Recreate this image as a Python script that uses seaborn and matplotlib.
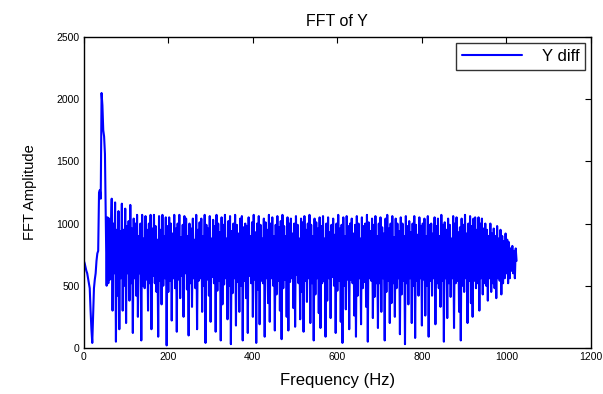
import numpy as np
import pandas as pd
import matplotlib
matplotlib.use("Agg")
import matplotlib.pyplot as plt
import seaborn as sns

# FFT amplitude (2 Hz spacing, from 0 Hz)
amplitude = [
    700, 680, 650, 620, 600, 560, 520, 480, 300, 150, 40, 250, 480, 550, 600, 700, 760, 780, 1250, 1270,
    1200, 2050, 1950, 1750, 1700, 1560, 1000, 500, 1050, 520, 1040, 550, 900, 1200, 300, 1000, 600, 1170, 50, 950,
    420, 1100, 150, 940, 560, 1160, 300, 950, 500, 1120, 200, 980, 600, 1020, 380, 1150, 520, 960, 120, 1040,
    560, 1000, 420, 1070, 250, 900, 600, 1000, 60, 1070, 500, 880, 480, 1060, 550, 950, 300, 1000, 520, 1070,
    150, 960, 580, 1070, 520, 980, 450, 870, 90, 1060, 540, 950, 350, 1070, 500, 900, 560, 1050, 20, 980,
    450, 1050, 540, 1000, 220, 920, 560, 1070, 480, 960, 130, 1000, 550, 1070, 400, 890, 580, 990, 250, 1060,
    600, 1040, 470, 900, 100, 1000, 520, 960, 330, 1040, 560, 870, 480, 1070, 150, 950, 540, 1010, 560, 1040,
    290, 900, 500, 1070, 40, 990, 550, 960, 420, 1060, 210, 880, 570, 1030, 520, 980, 130, 1070, 460, 1000,
    540, 930, 60, 1050, 350, 990, 510, 1070, 560, 880, 230, 1020, 500, 1060, 30, 940, 440, 1000, 560, 1070,
    180, 990, 530, 920, 290, 1040, 500, 1060, 60, 970, 540, 1000, 400, 980, 120, 1050, 580, 900, 520, 1010,
    250, 1070, 550, 930, 40, 1000, 470, 1060, 190, 990, 540, 880, 520, 1040, 90, 1010, 560, 950, 360, 1070,
    210, 1000, 560, 1050, 500, 900, 140, 990, 430, 1060, 540, 970, 300, 1020, 70, 1070, 480, 980, 550, 900,
    250, 1050, 140, 1000, 530, 1040, 560, 920, 320, 1000, 170, 1060, 590, 990, 520, 880, 230, 1040, 450, 1010,
    130, 1060, 540, 950, 370, 1000, 560, 1070, 200, 990, 520, 900, 60, 1040, 430, 1010, 560, 960, 280, 1050,
    160, 980, 520, 1060, 540, 880, 90, 1000, 380, 1050, 560, 930, 240, 990, 570, 1040, 500, 910, 120, 1000,
    460, 1070, 540, 960, 210, 990, 40, 1050, 500, 900, 310, 1060, 550, 980, 150, 1000, 550, 1040, 520, 920,
    260, 990, 90, 1060, 420, 1000, 560, 880, 190, 1050, 480, 980, 530, 1000, 330, 1070, 50, 1010, 560, 940,
    540, 1040, 240, 990, 410, 1060, 520, 900, 160, 1000, 520, 1050, 290, 970, 560, 920, 60, 1040, 450, 1070,
    540, 960, 200, 1000, 360, 1060, 520, 890, 250, 1040, 480, 1000, 560, 940, 110, 1050, 430, 1000, 540, 900,
    30, 1060, 520, 980, 350, 1020, 560, 930, 200, 1000, 500, 1060, 80, 990, 540, 910, 420, 1050, 560, 980,
    180, 1000, 550, 1040, 260, 900, 500, 1060, 90, 990, 540, 1000, 420, 920, 560, 1050, 190, 980, 520, 1040,
    480, 900, 330, 1070, 540, 990, 50, 1010, 560, 950, 240, 1040, 520, 990, 410, 880, 560, 1060, 160, 1000,
    520, 1050, 540, 930, 290, 970, 60, 1040, 500, 990, 450, 1070, 560, 920, 200, 1000, 540, 1060, 360, 980,
    250, 1040, 540, 1050, 480, 950, 520, 1050, 300, 1000, 560, 1040, 430, 960, 520, 1000, 500, 950, 380, 900,
    560, 1000, 450, 920, 520, 960, 480, 900, 400, 980, 560, 880, 540, 950, 430, 900, 520, 860, 560, 920,
    600, 870, 520, 850, 560, 800, 620, 820, 600, 780, 560, 800, 700,
]
freq_step_hz = 2
freq = np.arange(len(amplitude)) * freq_step_hz
series_name = "Y diff"

x_ticks = [0, 200, 400, 600, 800, 1000, 1200]
y_ticks = [0, 500, 1000, 1500, 2000, 2500]

df = pd.DataFrame({"Frequency": freq, "Amplitude": amplitude,
                   "series": series_name})

sns.set_theme(style="white")
plt.rcParams["font.family"] = ["Liberation Sans", "DejaVu Sans"]
plt.rcParams["text.color"] = "black"
plt.rcParams["axes.labelcolor"] = "black"

fig = plt.figure(figsize=(6.03, 3.94), dpi=100)
ax = fig.add_axes([0.139, 0.117, 0.841, 0.789])

sns.lineplot(data=df, x="Frequency", y="Amplitude", hue="series",
             palette=["#0000ff"], linewidth=1.5, ax=ax, estimator=None)

ax.set_xlim(0, 1200)
ax.set_ylim(0, 2500)
ax.set_xticks(x_ticks)
ax.set_yticks(y_ticks)
ax.tick_params(direction="in", length=4, width=0.8, top=True, right=True,
               labelsize=7.5, colors="black", pad=3)
for s in ax.spines.values():
    s.set_visible(True)
    s.set_color("black")
    s.set_linewidth(1.0)

ax.set_title("FFT of Y", fontsize=11.5, pad=8, color="black")
ax.set_xlabel("Frequency (Hz)", fontsize=12, labelpad=8, color="black")
ax.set_ylabel("FFT Amplitude", fontsize=10.5, labelpad=14, color="black")

leg = ax.legend(loc="upper right", fontsize=12, frameon=True, fancybox=False,
                borderaxespad=0.35, handlelength=3.6, borderpad=0.35,
                handletextpad=1.2)
leg.get_frame().set_edgecolor("black")
leg.get_frame().set_linewidth(1.0)
for t in leg.get_texts():
    t.set_color("black")
for line in leg.get_lines():
    line.set_linewidth(1.5)

fig.savefig("out.png", dpi=100, facecolor="white")
